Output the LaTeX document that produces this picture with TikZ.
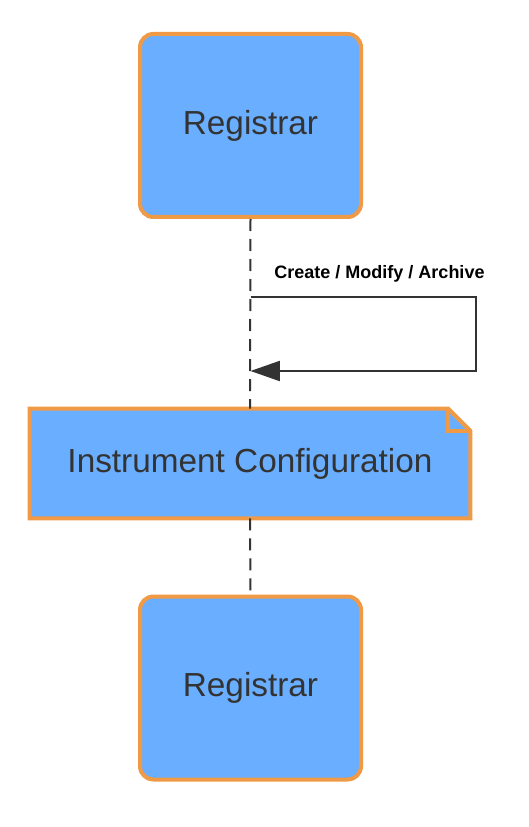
\documentclass[tikz,border=0pt]{standalone}
\usepackage{fontspec}
\setmainfont{Liberation Sans}
\usetikzlibrary{arrows.meta, calc, backgrounds}
\definecolor{actorfill}{HTML}{6AAEFF}
\definecolor{actoredge}{HTML}{F09A45}
\definecolor{ink}{HTML}{333333}

\begin{document}
\begin{tikzpicture}[x=0.75pt, y=-0.75pt, >={Triangle[length=22pt, width=15pt]},
    actor/.style={draw=actoredge, fill=actorfill, line width=3pt, rounded corners=10pt,
      minimum width=165.75pt, minimum height=137.25pt, text=ink, font=\fontsize{25}{30}\selectfont},
    lifeline/.style={ink, line width=1.5pt, dash pattern=on 9pt off 6pt},
    message/.style={ink, line width=1.5pt}]
  \useasboundingbox (0,0) rectangle (528,827);
  \node[actor] (reg1) at (250.5,125.5) {Registrar};
  \node[actor] (reg2) at (250.5,688) {Registrar};
  \node[minimum width=330pt, minimum height=81.75pt, text=ink, font=\fontsize{25}{30}\selectfont] (config) at (250,463.5) {Instrument Configuration};
  % note with folded corner
  \begin{scope}[on background layer]
    \filldraw[draw=actoredge, fill=actorfill, line width=3pt, line join=miter]
      (config.north west) -- ($(config.north east)+(-22,0)$) -- ($(config.north east)+(0,22)$)
      -- (config.south east) -- (config.south west) -- cycle;
    \draw[actoredge, line width=3pt] ($(config.north east)+(-22,0)$) -- ($(config.north east)+(-22,22)$) -- ($(config.north east)+(0,22)$);
  \end{scope}
  % lifeline
  \draw[lifeline] (reg1.south) -- (config.north);
  \draw[lifeline] (config.south) -- (reg2.north);
  % self message
  \coordinate (msgout) at ($(reg1.south)+(0,78)$);
  \coordinate (msgin) at ($(reg1.south)+(0,152)$);
  \draw[message, ->] (msgout) -- ($(msgout)+(225,0)$) |- (msgin);
  \node[font=\fontsize{13.5}{16}\selectfont\bfseries, text=black] (msglabel) at ($(msgout)+(129,-23)$) {Create / Modify / Archive};
\end{tikzpicture}
\end{document}
